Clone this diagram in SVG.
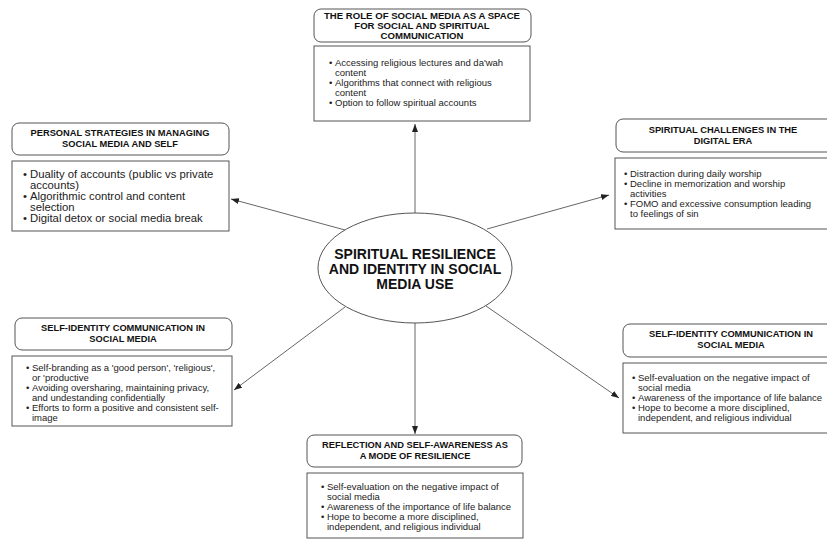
<svg xmlns="http://www.w3.org/2000/svg" width="827" height="543" viewBox="0 0 827 543">
<style>
.hdr{fill:#fff;stroke:#555;stroke-width:1}
.box{fill:#fff;stroke:#555;stroke-width:1}
.ht{font-family:"Liberation Sans",Arial,sans-serif;font-weight:bold;font-size:9.3px;fill:#111;text-anchor:middle}
.bt{font-family:"Liberation Sans",Arial,sans-serif;font-size:9.5px;fill:#222}
.bt2{font-family:"Liberation Sans",Arial,sans-serif;font-size:11.3px;fill:#222}
.ct{font-family:"Liberation Sans",Arial,sans-serif;font-weight:bold;font-size:14px;fill:#111;text-anchor:middle}
.con{stroke:#666;stroke-width:1;fill:none;marker-end:url(#ah)}
</style>
<defs>
<marker id="ah" viewBox="0 0 8 6" refX="8" refY="3" markerWidth="8" markerHeight="6" markerUnits="userSpaceOnUse" orient="auto">
<path d="M0,0 L8,3 L0,6 Z" fill="#222"/>
</marker>
</defs>
<rect width="827" height="543" fill="#fff"/>
<g id="connectors">
<line class="con" x1="415" y1="213" x2="415" y2="124"/>
<line class="con" x1="345" y1="230" x2="231" y2="199"/>
<line class="con" x1="487" y1="229" x2="609" y2="195"/>
<line class="con" x1="345" y1="307" x2="234" y2="390"/>
<line class="con" x1="486" y1="306" x2="619" y2="398"/>
<line class="con" x1="415" y1="323" x2="415" y2="434"/>
</g>
<g id="center">
<ellipse cx="415" cy="268" rx="97" ry="55" fill="#fff" stroke="#555" stroke-width="1"/>
<text class="ct" x="415" y="259">SPIRITUAL RESILIENCE</text>
<text class="ct" x="415" y="274">AND IDENTITY IN SOCIAL</text>
<text class="ct" x="415" y="289">MEDIA USE</text>
</g>
<g id="node-top">
<rect class="hdr" x="314" y="9" width="217" height="33" rx="7"/>
<text class="ht" x="422" y="19" style="font-size:9.6px">THE ROLE OF SOCIAL MEDIA AS A SPACE</text>
<text class="ht" x="422" y="29" style="font-size:9.6px">FOR SOCIAL AND SPIRITUAL</text>
<text class="ht" x="422" y="39" style="font-size:9.6px">COMMUNICATION</text>
<rect class="box" x="314" y="46" width="216" height="75"/>
<text class="bt" x="329" y="66">•</text><text class="bt" x="335" y="66">Accessing religious lectures and da'wah</text>
<text class="bt" x="335" y="76">content</text>
<text class="bt" x="329" y="86">•</text><text class="bt" x="335" y="86">Algorithms that connect with religious</text>
<text class="bt" x="335" y="96">content</text>
<text class="bt" x="329" y="106">•</text><text class="bt" x="335" y="106">Option to follow spiritual accounts</text>
</g>
<g id="node-left-top">
<rect class="hdr" x="12" y="123" width="217" height="32" rx="7"/>
<text class="ht" x="120" y="136">PERSONAL STRATEGIES IN MANAGING</text>
<text class="ht" x="120" y="147">SOCIAL MEDIA AND SELF</text>
<rect class="box" x="12" y="161" width="217" height="70"/>
<text class="bt2" x="23" y="178">•</text><text class="bt2" x="30" y="178">Duality of accounts (public vs private</text>
<text class="bt2" x="30" y="189">accounts)</text>
<text class="bt2" x="23" y="200">•</text><text class="bt2" x="30" y="200">Algorithmic control and content</text>
<text class="bt2" x="30" y="211">selection</text>
<text class="bt2" x="23" y="222">•</text><text class="bt2" x="30" y="222">Digital detox or social media break</text>
</g>
<g id="node-right-top">
<rect class="hdr" x="616" y="119" width="225" height="33" rx="7"/>
<text class="ht" x="723" y="133">SPIRITUAL CHALLENGES IN THE</text>
<text class="ht" x="723" y="144">DIGITAL ERA</text>
<rect class="box" x="615" y="158" width="226" height="71"/>
<text class="bt" x="624" y="177">•</text><text class="bt" x="630" y="177">Distraction during daily worship</text>
<text class="bt" x="624" y="187">•</text><text class="bt" x="630" y="187">Decline in memorization and worship</text>
<text class="bt" x="630" y="197">activities</text>
<text class="bt" x="624" y="207">•</text><text class="bt" x="630" y="207">FOMO and excessive consumption leading</text>
<text class="bt" x="630" y="217">to feelings of sin</text>
</g>
<g id="node-left-bottom">
<rect class="hdr" x="15" y="318" width="217" height="32" rx="7"/>
<text class="ht" x="123" y="331">SELF-IDENTITY COMMUNICATION IN</text>
<text class="ht" x="123" y="342">SOCIAL MEDIA</text>
<rect class="box" x="12" y="356" width="220" height="70"/>
<text class="bt" x="26" y="371">•</text><text class="bt" x="32" y="371">Self-branding as a 'good person', 'religious',</text>
<text class="bt" x="32" y="381">or 'productive</text>
<text class="bt" x="26" y="391">•</text><text class="bt" x="32" y="391">Avoiding oversharing, maintaining privacy,</text>
<text class="bt" x="32" y="401">and undestanding confidentially</text>
<text class="bt" x="26" y="411">•</text><text class="bt" x="32" y="411">Efforts to form a positive and consistent self-</text>
<text class="bt" x="32" y="421">image</text>
</g>
<g id="node-right-bottom">
<rect class="hdr" x="623" y="324" width="220" height="33" rx="7"/>
<text class="ht" x="731" y="337">SELF-IDENTITY COMMUNICATION IN</text>
<text class="ht" x="731" y="348">SOCIAL MEDIA</text>
<rect class="box" x="623" y="363" width="220" height="70"/>
<text class="bt" x="632" y="381">•</text><text class="bt" x="638" y="381">Self-evaluation on the negative impact of</text>
<text class="bt" x="638" y="391">social media</text>
<text class="bt" x="632" y="401">•</text><text class="bt" x="638" y="401">Awareness of the importance of life balance</text>
<text class="bt" x="632" y="411">•</text><text class="bt" x="638" y="411">Hope to become a more disciplined,</text>
<text class="bt" x="638" y="421">independent, and religious individual</text>
</g>
<g id="node-bottom">
<rect class="hdr" x="307" y="435" width="215" height="32" rx="7"/>
<text class="ht" x="415" y="448">REFLECTION AND SELF-AWARENESS AS</text>
<text class="ht" x="415" y="459">A MODE OF RESILIENCE</text>
<rect class="box" x="307" y="473" width="216" height="65"/>
<text class="bt" x="321" y="490">•</text><text class="bt" x="327" y="490">Self-evaluation on the negative impact of</text>
<text class="bt" x="327" y="500">social media</text>
<text class="bt" x="321" y="510">•</text><text class="bt" x="327" y="510">Awareness of the importance of life balance</text>
<text class="bt" x="321" y="520">•</text><text class="bt" x="327" y="520">Hope to become a more disciplined,</text>
<text class="bt" x="327" y="530">independent, and religious individual</text>
</g>
</svg>
